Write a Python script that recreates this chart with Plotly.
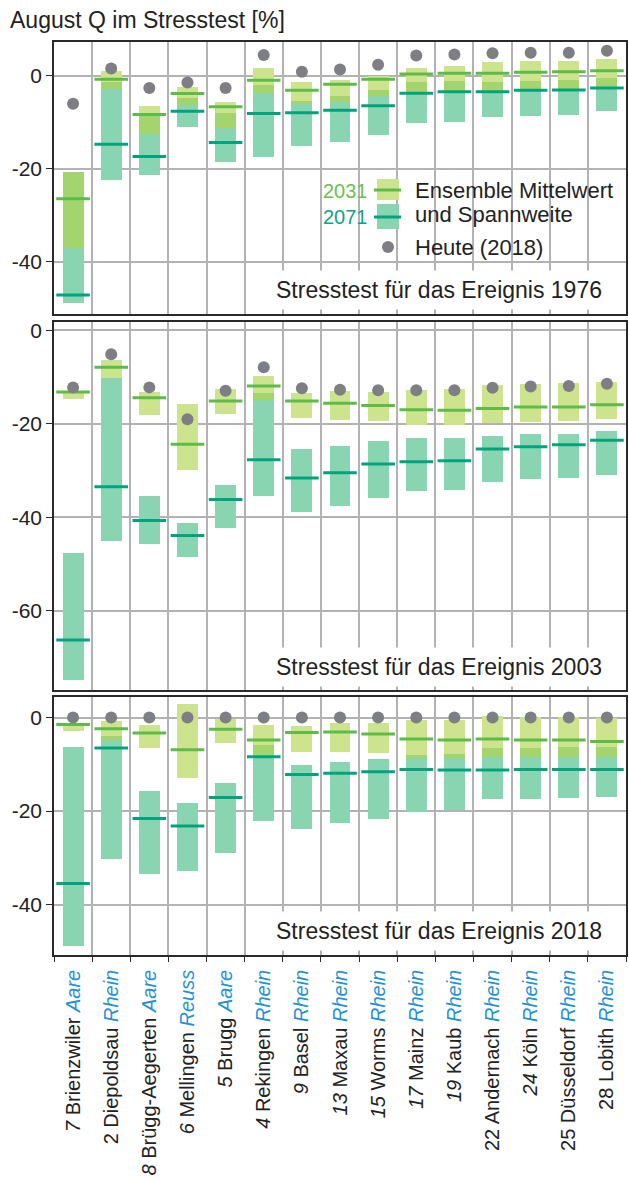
import plotly.graph_objects as go

# ---- categories -------------------------------------------------------
stations = ["Brienzwiler", "Diepoldsau", "Brügg-Aegerten", "Mellingen", "Brugg",
            "Rekingen", "Basel", "Maxau", "Worms", "Mainz", "Kaub", "Andernach",
            "Köln", "Düsseldorf", "Lobith"]
station_numbers = ["7", "2", "8", "6", "5", "4", "9", "13", "15", "17", "19", "22",
                   "24", "25", "28"]
number_italic = [True, False, True, True, True, True, True, True, True, True, True,
                 False, True, False, False]
rivers = ["Aare", "Rhein", "Aare", "Reuss", "Aare", "Rhein", "Rhein", "Rhein",
          "Rhein", "Rhein", "Rhein", "Rhein", "Rhein", "Rhein", "Rhein"]

# ---- Stresstest 1976 --------------------------------------------------
today_1976 = [-6.0, 1.6, -2.6, -1.4, -2.6, 4.5, 0.9, 1.4, 2.4, 4.4, 4.6, 4.9, 5.0, 5.0, 5.4]
mean31_1976 = [-26.4, -0.7, -8.3, -3.8, -6.6, -0.9, -3.1, -1.8, -0.7, 0.4, 0.6, 0.6, 0.8, 0.9, 1.1]
low31_1976 = [-37.0, -2.9, -12.5, -6.3, -11.1, -3.6, -6.1, -5.5, -4.4, -3.6, -3.4, -3.4, -3.1, -3.0, -2.5]
high31_1976 = [-20.6, 1.1, -6.4, -2.4, -5.6, 1.8, -1.4, -0.9, -0.1, 1.8, 2.1, 3.0, 3.2, 3.2, 3.6]
mean71_1976 = [-47.1, -14.7, -17.3, -7.6, -14.3, -8.1, -7.9, -7.4, -6.4, -3.7, -3.4, -3.4, -3.1, -3.0, -2.6]
low71_1976 = [-48.9, -22.4, -21.2, -10.9, -18.6, -17.5, -15.1, -14.1, -12.6, -10.2, -9.9, -8.9, -8.6, -8.4, -7.6]
high71_1976 = [-20.6, -1.2, -8.0, -4.8, -8.0, -1.9, -5.3, -4.3, -3.0, -1.2, -1.1, -1.2, -1.1, -0.9, -0.4]

# ---- Stresstest 2003 --------------------------------------------------
today_2003 = [-12.2, -5.1, -12.2, -19.0, -12.9, -7.9, -12.4, -12.7, -12.8, -12.8, -12.8, -12.3, -12.0, -11.9, -11.4]
mean31_2003 = [-13.2, -7.9, -14.4, -24.4, -15.1, -11.9, -15.1, -15.6, -16.1, -17.0, -17.1, -16.7, -16.4, -16.4, -15.9]
low31_2003 = [-14.7, -10.1, -18.1, -29.9, -17.9, -15.0, -18.8, -19.2, -19.4, -20.2, -20.2, -19.9, -19.6, -19.5, -18.9]
high31_2003 = [-12.9, -6.3, -13.1, -15.8, -12.6, -9.7, -13.5, -13.0, -13.1, -12.7, -12.6, -11.6, -11.4, -11.3, -11.1]
mean71_2003 = [-66.3, -33.5, -40.7, -43.9, -36.2, -27.7, -31.6, -30.5, -28.6, -28.1, -27.9, -25.4, -24.9, -24.5, -23.5]
low71_2003 = [-74.9, -45.1, -45.7, -48.6, -42.4, -35.4, -38.8, -37.6, -35.9, -34.3, -34.1, -32.4, -31.9, -31.6, -30.9]
high71_2003 = [-47.7, -10.1, -35.5, -41.2, -33.1, -13.4, -25.5, -24.7, -23.7, -23.1, -23.1, -22.6, -22.2, -22.1, -21.5]

# ---- Stresstest 2018 --------------------------------------------------
today_2018 = [0.0] * 15
mean31_2018 = [-1.5, -2.4, -3.3, -6.9, -2.5, -4.8, -3.2, -3.1, -3.5, -4.6, -4.8, -4.6, -4.8, -4.8, -5.1]
low31_2018 = [-2.9, -4.8, -6.5, -12.9, -5.4, -8.0, -7.3, -7.4, -7.5, -8.6, -8.6, -8.4, -8.5, -8.4, -8.4]
high31_2018 = [-1.2, -0.7, -1.6, 2.9, -0.4, -1.5, -1.9, -1.1, -1.1, -0.5, -0.5, 0.4, 0.2, 0.2, -0.1]
mean71_2018 = [-35.5, -6.5, -21.6, -23.2, -17.1, -8.4, -12.2, -11.9, -11.6, -11.1, -11.2, -11.2, -11.1, -11.1, -11.1]
low71_2018 = [-48.9, -30.2, -33.4, -32.9, -28.9, -22.2, -23.8, -22.6, -21.6, -20.1, -19.8, -17.5, -17.4, -17.3, -17.1]
high71_2018 = [-6.2, -3.9, -15.7, -18.2, -14.0, -5.9, -10.1, -9.6, -8.9, -8.0, -7.9, -6.6, -6.6, -6.4, -6.4]

panel_titles = ["Stresstest für das Ereignis 1976", "Stresstest für das Ereignis 2003",
                "Stresstest für das Ereignis 2018"]
y_ranges = [[-51.2, 7.3], [-77.0, 1.8], [-50.8, 4.4]]
y_ticks = [[0, -20, -40], [0, -20, -40, -60], [0, -20, -40]]
y_ticktext = [["0", "-20", "-40"], ["0", "-20", "-40", "-60"], ["0", "-20", "-40"]]

panels = [
    (today_1976, mean31_1976, low31_1976, high31_1976, mean71_1976, low71_1976, high71_1976),
    (today_2003, mean31_2003, low31_2003, high31_2003, mean71_2003, low71_2003, high71_2003),
    (today_2018, mean31_2018, low31_2018, high31_2018, mean71_2018, low71_2018, high71_2018),
]

# ---- styling ----------------------------------------------------------
C31_FILL = "#cde38d"
C71_FILL = "#8ad5b1"
C_OVERLAP = "#a3d46e"
C31_LINE = "#5dbb47"
C71_LINE = "#00a47c"
C_DOT = "#7e7f84"
C_RIVER = "#2391d6"
C_GRID = "#b3b3b3"
C_FRAME = "#2a2a2a"
C_TEXT = "#222222"
FONT = "Liberation Sans, Arial, sans-serif"
BAR_W = 0.55

W, H = 629, 1180
ML, MR, MT, MB = 54, 3, 42, 225
PW = W - ML - MR
PH = H - MT - MB


def px_x(px):
    return (px - ML) / PW


def px_y(py):
    return (H - MB - py) / PH


# panel domains (top to bottom)
domains = [[px_y(314), px_y(42)], [px_y(690), px_y(322)], [px_y(955), px_y(697)]]

x = list(range(len(stations)))
fig = go.Figure()

for i, (today, m31, lo31, hi31, m71, lo71, hi71) in enumerate(panels):
    xa = "x" if i == 0 else f"x{i + 1}"
    ya = "y" if i == 0 else f"y{i + 1}"

    # overlap of the two ensemble ranges
    ov_base, ov_len = [], []
    for a, b, c, d in zip(lo31, hi31, lo71, hi71):
        lo = max(a, c)
        hi = min(b, d)
        ov_base.append(lo)
        ov_len.append(max(hi - lo, 0))

    fig.add_trace(go.Bar(x=x, base=lo71, y=[h - l for h, l in zip(hi71, lo71)],
                         width=BAR_W, marker=dict(color=C71_FILL, line=dict(width=0)),
                         xaxis=xa, yaxis=ya, showlegend=False, name="2071"))
    fig.add_trace(go.Bar(x=x, base=lo31, y=[h - l for h, l in zip(hi31, lo31)],
                         width=BAR_W, marker=dict(color=C31_FILL, line=dict(width=0)),
                         xaxis=xa, yaxis=ya, showlegend=False, name="2031"))
    fig.add_trace(go.Bar(x=x, base=ov_base, y=ov_len,
                         width=BAR_W, marker=dict(color=C_OVERLAP, line=dict(width=0)),
                         xaxis=xa, yaxis=ya, showlegend=False, name="overlap"))
    fig.add_trace(go.Scatter(x=x, y=m31, mode="markers",
                             marker=dict(symbol="line-ew", size=24,
                                         line=dict(width=3, color=C31_LINE)),
                             xaxis=xa, yaxis=ya, showlegend=False, name="Mittel 2031"))
    fig.add_trace(go.Scatter(x=x, y=m71, mode="markers",
                             marker=dict(symbol="line-ew", size=24,
                                         line=dict(width=3, color=C71_LINE)),
                             xaxis=xa, yaxis=ya, showlegend=False, name="Mittel 2071"))
    fig.add_trace(go.Scatter(x=x, y=today, mode="markers",
                             marker=dict(symbol="circle", size=12, color=C_DOT,
                                         line=dict(width=0)),
                             xaxis=xa, yaxis=ya, showlegend=False, name="Heute (2018)"))

# station labels, written bottom-to-top
ticktext = []
for num, it, st, rv in zip(station_numbers, number_italic, stations, rivers):
    n = f"<i>{num}</i>" if it else num
    ticktext.append(f"{n} {st} <span style='color:{C_RIVER}'><i>{rv}</i></span>")

boundaries = [k - 0.5 for k in range(len(stations) + 1)]

layout = dict(
    width=W, height=H,
    margin=dict(l=ML, r=MR, t=MT, b=MB, autoexpand=False),
    paper_bgcolor="white", plot_bgcolor="white",
    barmode="overlay", bargap=0,
    font=dict(family=FONT, size=21, color=C_TEXT),
)

for i in range(3):
    xkey = "xaxis" if i == 0 else f"xaxis{i + 1}"
    ykey = "yaxis" if i == 0 else f"yaxis{i + 1}"
    xa = "x" if i == 0 else f"x{i + 1}"
    ya = "y" if i == 0 else f"y{i + 1}"
    bottom = i == 2
    layout[xkey] = dict(
        domain=[0, 1], anchor=ya, range=[-0.5, len(stations) - 0.5],
        automargin=False,
        showgrid=False, zeroline=False,
        showline=True, mirror=True, linecolor=C_FRAME, linewidth=1.5,
        tickmode="array", tickvals=x if bottom else [],
        ticktext=ticktext if bottom else [],
        ticks="", tickangle=-90, showticklabels=bottom,
        ticklabelstandoff=5,
        tickfont=dict(family=FONT, size=20, color=C_TEXT),
        minor=dict(tickmode="array", tickvals=boundaries, showgrid=True,
                   gridcolor=C_GRID, gridwidth=1.5,
                   ticks="outside" if bottom else "", ticklen=5,
                   tickcolor=C_FRAME, tickwidth=1.2),
    )
    if i > 0:
        layout[xkey]["matches"] = "x"
    layout[ykey] = dict(
        domain=domains[i], anchor=xa, range=y_ranges[i],
        automargin=False,
        tickmode="array", tickvals=y_ticks[i], ticktext=y_ticktext[i],
        showgrid=True, gridcolor=C_GRID, gridwidth=1.5, zeroline=False,
        showline=True, mirror=True, linecolor=C_FRAME, linewidth=1.5,
        ticks="outside", ticklen=6, tickcolor=C_FRAME, tickwidth=1.2,
        tickfont=dict(family=FONT, size=21, color=C_TEXT),
    )

fig.update_layout(**layout)

annotations = [
    dict(text="August Q im Stresstest [%]", xref="paper", yref="paper",
         x=px_x(8), y=px_y(20), xanchor="left", yanchor="middle", showarrow=False,
         font=dict(family=FONT, size=23, color=C_TEXT)),
]
title_y = [290, 667, 931]
for t, ty in zip(panel_titles, title_y):
    annotations.append(dict(text=t, xref="paper", yref="paper", x=px_x(609), y=px_y(ty),
                            xanchor="right", yanchor="middle", showarrow=False,
                            bgcolor="white", borderpad=6,
                            font=dict(family=FONT, size=23, color=C_TEXT)))

# legend block inside the 1976 panel
annotations += [
    dict(text="2031", xref="paper", yref="paper", x=px_x(370), y=px_y(191),
         xanchor="right", yanchor="middle", showarrow=False,
         font=dict(family=FONT, size=20, color="#6cbf4a")),
    dict(text="2071", xref="paper", yref="paper", x=px_x(370), y=px_y(217),
         xanchor="right", yanchor="middle", showarrow=False,
         font=dict(family=FONT, size=20, color="#10a485")),
    dict(text="Ensemble Mittelwert", xref="paper", yref="paper", x=px_x(413), y=px_y(190),
         xanchor="left", yanchor="middle", showarrow=False,
         font=dict(family=FONT, size=22, color=C_TEXT)),
    dict(text="und Spannweite", xref="paper", yref="paper", x=px_x(413), y=px_y(214),
         xanchor="left", yanchor="middle", showarrow=False,
         font=dict(family=FONT, size=22, color=C_TEXT)),
    dict(text="Heute (2018)", xref="paper", yref="paper", x=px_x(413), y=px_y(247),
         xanchor="left", yanchor="middle", showarrow=False,
         font=dict(family=FONT, size=22, color=C_TEXT)),
]

shapes = [
    dict(type="rect", xref="paper", yref="paper", x0=px_x(300), x1=px_x(625),
         y0=px_y(261), y1=px_y(173), fillcolor="white", line=dict(width=0), layer="between"),
    dict(type="rect", xref="paper", yref="paper", x0=px_x(377), x1=px_x(399),
         y0=px_y(200), y1=px_y(179), fillcolor=C31_FILL, line=dict(width=0)),
    dict(type="line", xref="paper", yref="paper", x0=px_x(374), x1=px_x(401),
         y0=px_y(190), y1=px_y(190), line=dict(color=C31_LINE, width=3)),
    dict(type="rect", xref="paper", yref="paper", x0=px_x(377), x1=px_x(399),
         y0=px_y(229), y1=px_y(204), fillcolor=C71_FILL, line=dict(width=0)),
    dict(type="line", xref="paper", yref="paper", x0=px_x(374), x1=px_x(401),
         y0=px_y(217), y1=px_y(217), line=dict(color=C71_LINE, width=3)),
    dict(type="circle", xref="paper", yref="paper", x0=px_x(382), x1=px_x(394),
         y0=px_y(253), y1=px_y(241), fillcolor=C_DOT, line=dict(width=0)),
]

fig.update_layout(annotations=annotations, shapes=shapes)
fig.write_html("out.html")
